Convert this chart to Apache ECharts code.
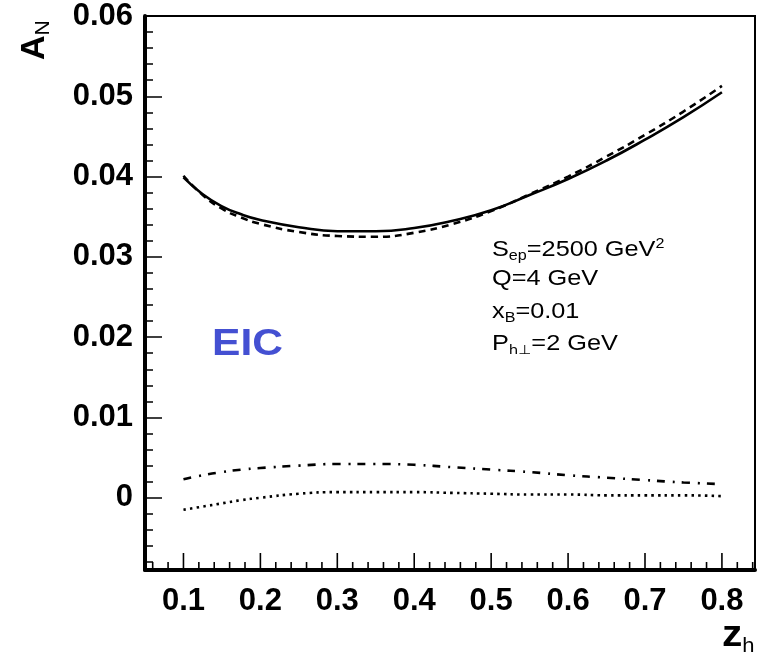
<!DOCTYPE html>
<html>
<head>
<meta charset="utf-8">
<script src="https://cdn.jsdelivr.net/npm/echarts@6/dist/echarts.min.js"></script>
<style>
html,body{margin:0;padding:0;background:#fff;}
#chart{width:758px;height:661px;}
</style>
</head>
<body>
<div id="chart"></div>
<script>
// ---- data ----
const zh = [0.10, 0.125, 0.15, 0.175, 0.20, 0.25, 0.30, 0.35, 0.40, 0.45, 0.50, 0.55, 0.60, 0.65, 0.70, 0.75, 0.80];
const solidA = [0.0399, 0.0378, 0.0363, 0.0353, 0.0346, 0.0337, 0.0332, 0.0332, 0.0336, 0.0345, 0.0358, 0.0377, 0.0397, 0.0420, 0.0446, 0.0474, 0.0505];
const dashedA = [0.0401, 0.0377, 0.0360, 0.0349, 0.0341, 0.0331, 0.0326, 0.0325, 0.0330, 0.0341, 0.0357, 0.0378, 0.0400, 0.0425, 0.0452, 0.0481, 0.0513];
const dashDotA = [0.0023, 0.0028, 0.0032, 0.0035, 0.0037, 0.0040, 0.0042, 0.0042, 0.0041, 0.0038, 0.0035, 0.0032, 0.0028, 0.0025, 0.0022, 0.0019, 0.0017];
const dottedA = [-0.0015, -0.0011, -0.0007, -0.0003, 0.0000, 0.0005, 0.0007, 0.0007, 0.0007, 0.0006, 0.0005, 0.0004, 0.0004, 0.0003, 0.0003, 0.0003, 0.0002];

const xTickLabels = [0.1, 0.2, 0.3, 0.4, 0.5, 0.6, 0.7, 0.8];
const yTickLabels = [0, 0.01, 0.02, 0.03, 0.04, 0.05, 0.06];
const xMinorTicks = [0.06,0.08,0.12,0.14,0.16,0.18,0.22,0.24,0.26,0.28,0.32,0.34,0.36,0.38,0.42,0.44,0.46,0.48,0.52,0.54,0.56,0.58,0.62,0.64,0.66,0.68,0.72,0.74,0.76,0.78,0.82,0.84];
const yMinorTicks = [-0.008,-0.006,-0.004,-0.002,0.002,0.004,0.006,0.008,0.012,0.014,0.016,0.018,0.022,0.024,0.026,0.028,0.032,0.034,0.036,0.038,0.042,0.044,0.046,0.048,0.052,0.054,0.056,0.058];

const X_MIN = 0.05, X_MAX = 0.843, Y_MIN = -0.009, Y_MAX = 0.06;

function pairs(ys){ return zh.map((z,i)=>[z, ys[i]]); }
const fmt = v => String(+(+v).toFixed(2));

const FONT = 'Liberation Sans, Arial, Helvetica, sans-serif';
const labelFont = {fontFamily:FONT, fontWeight:'bold', fontSize:31, color:'#000'};
const GRID_POS = {left:145, right:3, top:16, bottom:91};

// x-axis tick marks drawn through the axis scale (major long, minor short)
function tickSeries(values, len){
  return {type:'custom', silent:true, clip:false, z:5, xAxisIndex:0, yAxisIndex:0,
    data: values.map(v=>[v, Y_MIN]),
    encode:{x:0, y:1},
    renderItem:function(params, api){
      const p = api.coord([api.value(0), api.value(1)]);
      return {type:'line', shape:{x1:p[0], y1:p[1], x2:p[0], y2:p[1]-len},
              style:{stroke:'#000', lineWidth:1.6}};
    }};
}

const chart = echarts.init(document.getElementById('chart'), null, {renderer:'canvas'});
const option = {
  animation:false,
  backgroundColor:'#fff',
  grid:[
    Object.assign({show:true, borderColor:'#000', borderWidth:2, backgroundColor:'transparent'}, GRID_POS),
    Object.assign({show:false}, GRID_POS)
  ],
  xAxis:[
    {type:'value', gridIndex:0, min:X_MIN, max:X_MAX, position:'bottom',
     axisLine:{show:true, onZero:false, lineStyle:{color:'#000', width:4}},
     axisTick:{show:false},
     axisLabel:{show:true, margin:16, customValues:xTickLabels, formatter:fmt, ...labelFont},
     splitLine:{show:false}},
    {type:'value', gridIndex:1, min:X_MIN, max:X_MAX, show:false}
  ],
  yAxis:[
    {type:'value', gridIndex:0, min:Y_MIN, max:Y_MAX, position:'left',
     axisLine:{show:true, onZero:false, lineStyle:{color:'#000', width:4}},
     axisTick:{show:true, inside:true, length:17, lineStyle:{color:'#000', width:1.5}, customValues:yTickLabels},
     axisLabel:{show:true, margin:12, customValues:yTickLabels, formatter:fmt, ...labelFont},
     splitLine:{show:false}},
    {type:'value', gridIndex:1, min:Y_MIN, max:Y_MAX, position:'left',
     axisLine:{show:false, onZero:false},
     axisTick:{show:true, inside:true, length:8, lineStyle:{color:'#000', width:1.5}, customValues:yMinorTicks},
     axisLabel:{show:false}, splitLine:{show:false}}
  ],
  series:[
    {type:'line', name:'solid', xAxisIndex:0, yAxisIndex:0, data:pairs(solidA), smooth:true, showSymbol:false,
     lineStyle:{color:'#000', width:2.6, type:'solid'}},
    {type:'line', name:'dashed', xAxisIndex:0, yAxisIndex:0, data:pairs(dashedA), smooth:true, showSymbol:false,
     lineStyle:{color:'#000', width:2.6, type:[7,5]}},
    {type:'line', name:'dashdot', xAxisIndex:0, yAxisIndex:0, data:pairs(dashDotA), smooth:true, showSymbol:false,
     lineStyle:{color:'#000', width:2.6, type:[8,8,2,7]}},
    {type:'line', name:'dotted', xAxisIndex:0, yAxisIndex:0, data:pairs(dottedA), smooth:true, showSymbol:false,
     lineStyle:{color:'#000', width:2.6, type:[2.5,4.2]}},
    tickSeries(xTickLabels, 17),
    tickSeries(xMinorTicks, 8)
  ],
  graphic:[
    {type:'text', left:212, top:326, scaleX:1.15,
     style:{text:'EIC', fontFamily:FONT, fontWeight:'bold', fontSize:37, fill:'#4450d2'}},
    {type:'text', x:492, y:237, scaleX:1.15,
     style:{text:'{m|S}{sub|ep}{m|=2500 GeV}{sup|2}',
       rich:{
         m:{fontFamily:FONT, fontSize:22, fill:'#000', lineHeight:26},
         sub:{fontFamily:FONT, fontSize:14, fill:'#000', lineHeight:14, verticalAlign:'bottom'},
         sup:{fontFamily:FONT, fontSize:14, fill:'#000', lineHeight:14, verticalAlign:'top'}
       }}},
    {type:'text', x:492, y:268, scaleX:1.15,
     style:{text:'Q=4 GeV', fontFamily:FONT, fontSize:22, fill:'#000'}},
    {type:'text', x:492, y:299, scaleX:1.15,
     style:{text:'{m|x}{sub|B}{m|=0.01}',
       rich:{
         m:{fontFamily:FONT, fontSize:22, fill:'#000', lineHeight:26},
         sub:{fontFamily:FONT, fontSize:14, fill:'#000', lineHeight:14, verticalAlign:'bottom'}
       }}},
    {type:'text', x:492, y:331, scaleX:1.15,
     style:{text:'{m|P}{sub|h⊥}{m|=2 GeV}',
       rich:{
         m:{fontFamily:FONT, fontSize:22, fill:'#000', lineHeight:26},
         sub:{fontFamily:'DejaVu Sans, Liberation Sans, sans-serif', fontSize:13, fill:'#000', lineHeight:14, verticalAlign:'bottom'}
       }}},
    {type:'text', x:16, y:60, rotation:Math.PI/2,
     style:{text:'{m|A}{sub|N}',
       rich:{
         m:{fontFamily:FONT, fontWeight:'bold', fontSize:34, fill:'#000', lineHeight:38},
         sub:{fontFamily:FONT, fontSize:21, fill:'#000', lineHeight:20, verticalAlign:'bottom'}
       }}},
    {type:'text', x:722, y:616, scaleX:1.1,
     style:{text:'{m|z}{sub|h}',
       rich:{
         m:{fontFamily:FONT, fontWeight:'bold', fontSize:37, fill:'#000', lineHeight:40},
         sub:{fontFamily:FONT, fontSize:20, fill:'#000', lineHeight:20, verticalAlign:'bottom'}
       }}}
  ]
};
chart.setOption(option);
</script>
</body>
</html>
